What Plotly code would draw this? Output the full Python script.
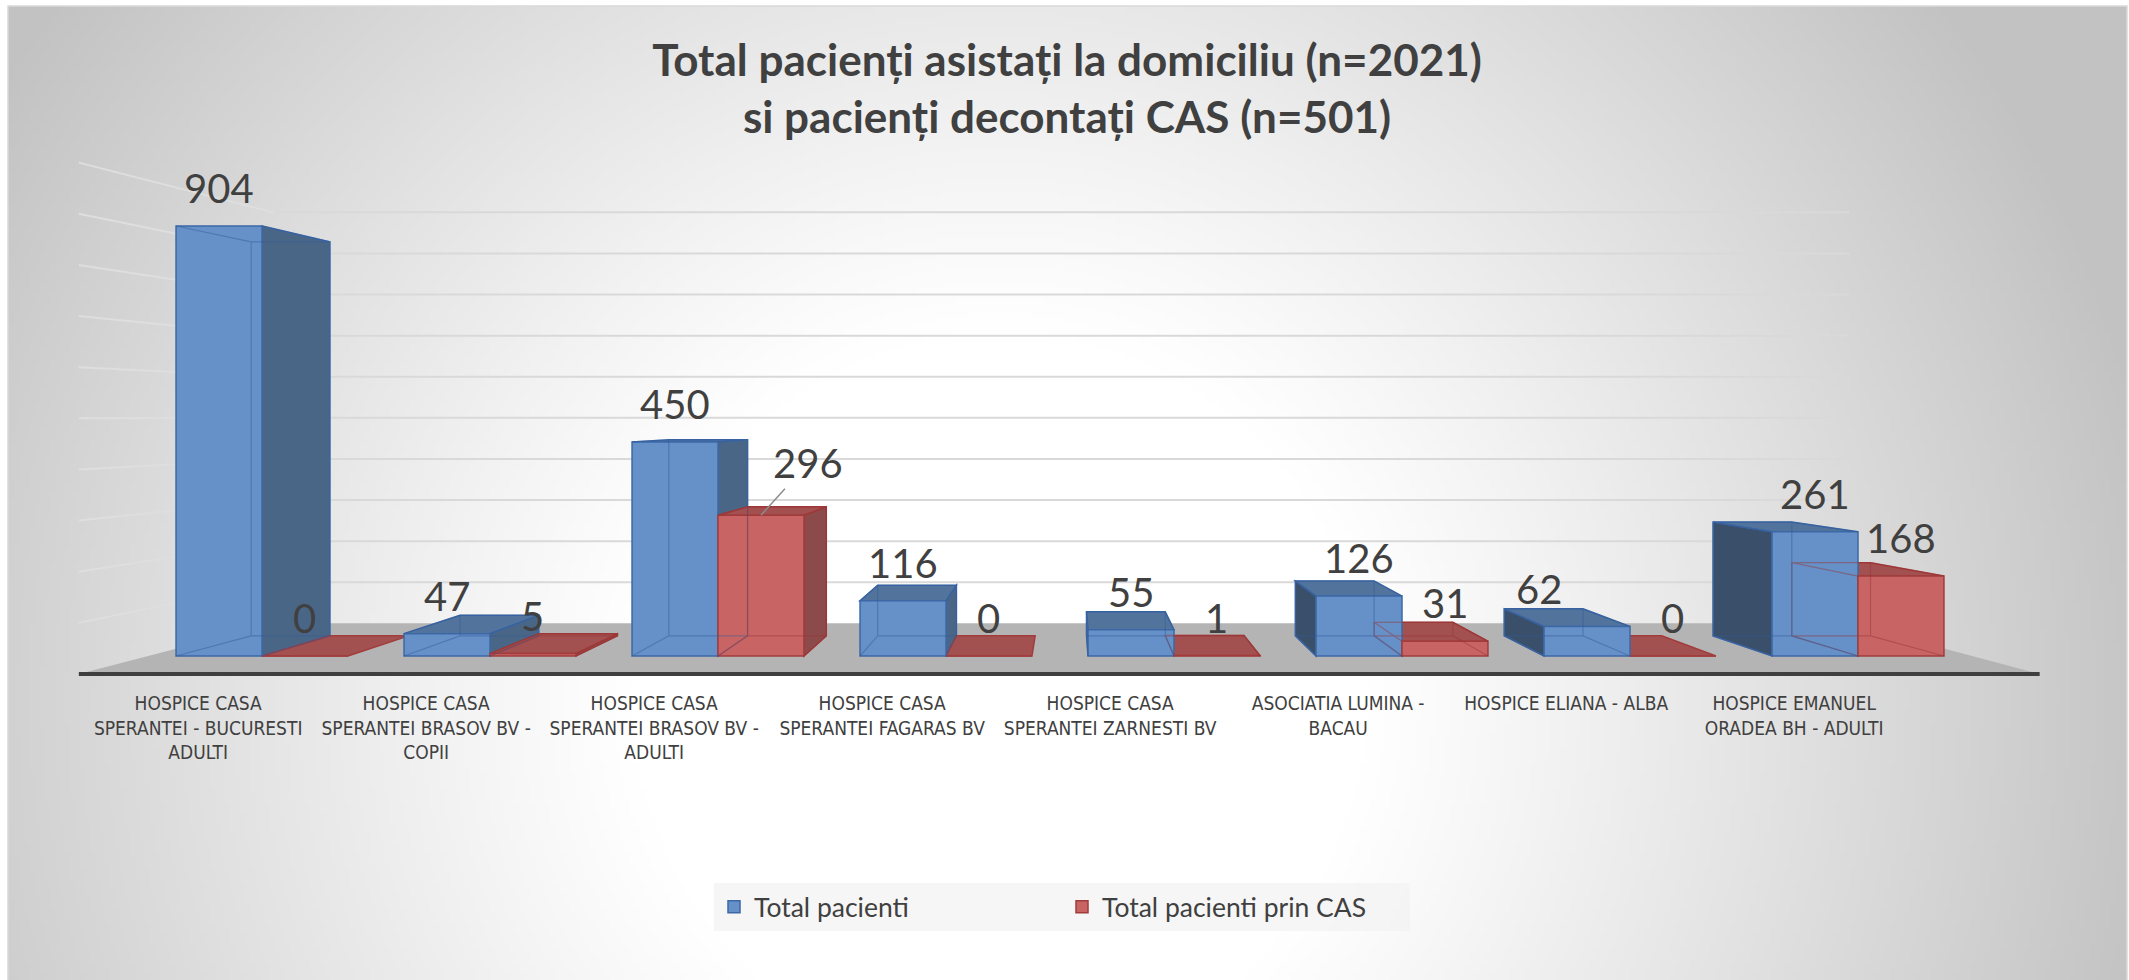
import base64
import struct
import zlib

import numpy as np
import plotly.graph_objects as go

# ---------------- data ----------------
categories = [
    "HOSPICE CASA<br>SPERANTEI - BUCURESTI<br>ADULTI",
    "HOSPICE CASA<br>SPERANTEI BRASOV BV -<br>COPII",
    "HOSPICE CASA<br>SPERANTEI BRASOV BV -<br>ADULTI",
    "HOSPICE CASA<br>SPERANTEI FAGARAS BV",
    "HOSPICE CASA<br>SPERANTEI ZARNESTI BV",
    "ASOCIATIA LUMINA -<br>BACAU",
    "HOSPICE ELIANA - ALBA",
    "HOSPICE EMANUEL<br>ORADEA BH - ADULTI",
]
total_pacienti = [904, 47, 450, 116, 55, 126, 62, 261]
total_pacienti_cas = [0, 5, 296, 0, 1, 31, 0, 168]
series_names = ["Total pacienti", "Total pacienti prin CAS"]
gridline_values = [100, 200, 300, 400, 500, 600, 700, 800, 900, 1000]
title_lines = [
    "Total pacienți asistați la domiciliu (n=2021)",
    "si pacienți decontați CAS (n=501)",
]

# ---------------- geometry / style ----------------
W, H = 2129, 980
L, R, T, B = 40, 2090, 140, 690          # plot area in page pixels
X0_PX, CAT_PX = 262, 228                  # pixel of category 0, pixels per category
Y0_PX, UNIT_PX = 656, 0.4757              # pixel of value 0, pixels per unit
x_range = [(L - X0_PX) / CAT_PX, (R - X0_PX) / CAT_PX]
y_range = [(Y0_PX - B) / UNIT_PX, (Y0_PX - T) / UNIT_PX]
VPX = (1070 - X0_PX) / CAT_PX            # vanishing point (data units)
VPY = (Y0_PX - 416) / UNIT_PX
K_BAR, K_WALL, K_FLOOR = 0.916, 0.864, 1.075
BAR_W = 0.377
TICK_SHIFT = 0.28

FONT = "Lato, 'Noto Sans', 'DejaVu Sans', sans-serif"
NARROW = "'Liberation Sans Narrow', 'DejaVu Sans Condensed', Lato, sans-serif"
TEXT = "#404040"

STYLES = [
    dict(front="#6690C8", top="#52739C", right="#4A6686", left="#3A4F6A",
         edge="#3C68A6", hidden="rgba(50,90,150,0.45)"),
    dict(front="#C86564", top="#A35050", right="#8C4A4A", left="#7A3E3E",
         edge="#A23C3C", hidden="rgba(150,50,50,0.45)"),
]

LABEL_NUDGE = {
    (1, 2): dict(showarrow=True, ax=47, ay=-52, arrowhead=0, arrowwidth=1.5,
                 arrowcolor="#8c8c8c", standoff=0),
    (0, 6): dict(xshift=-48),
}


def proj(x, v, k):
    return VPX + (x - VPX) * k, VPY + (v - VPY) * k


def path(points, close=True):
    s = "M " + " L ".join(f"{x:.5f},{y:.5f}" for x, y in points)
    return s + (" Z" if close else "")


def gradient_png():
    gw, gh = 424, 195
    bx0, by0, bx1, by1 = 8, 6, 2127, 980
    jj, ii = np.meshgrid(np.arange(gw), np.arange(gh))
    X = bx0 + (jj + 0.5) * (bx1 - bx0) / gw
    Y = by0 + (ii + 0.5) * (by1 - by0) / gh
    t = np.sqrt(((X - 1000) / 1200.0) ** 2 + ((Y - 700) / 1200.0) ** 2)
    s = np.clip((t - 0.3) / 0.68, 0, 1) ** 1.1
    val = (255 - (255 - 194) * s).round().astype(np.uint8)
    raw = b"".join(b"\x00" + val[r].tobytes() for r in range(gh))

    def chunk(tag, data):
        c = struct.pack(">I", len(data)) + tag + data
        return c + struct.pack(">I", zlib.crc32(tag + data) & 0xFFFFFFFF)

    ihdr = struct.pack(">IIBBBBB", gw, gh, 8, 0, 0, 0, 0)
    png = (b"\x89PNG\r\n\x1a\n" + chunk(b"IHDR", ihdr)
           + chunk(b"IDAT", zlib.compress(raw, 9)) + chunk(b"IEND", b""))
    return "data:image/png;base64," + base64.b64encode(png).decode()


n = len(categories)
series = [total_pacienti, total_pacienti_cas]
left_wall, right_wall = -0.5, n - 0.5

fig = go.Figure()
for s, (name, vals) in enumerate(zip(series_names, series)):
    st = STYLES[s]
    fig.add_trace(go.Bar(
        x=list(range(n)), y=vals, name=name,
        marker=dict(color=st["front"], line=dict(color=st["edge"], width=1.5)),
        hovertemplate="%{y}<extra>" + name + "</extra>",
    ))

shapes = []
# back wall gridlines + left side wall gridlines
for g in gridline_values:
    a = proj(left_wall, g, K_WALL)
    b = proj(right_wall, g, K_WALL)
    c = proj(left_wall, g, K_FLOOR)
    shapes.append(dict(type="line", xref="x", yref="y", x0=a[0], y0=a[1], x1=b[0], y1=b[1],
                       line=dict(color="#D9D9D9", width=2), layer="below"))
    shapes.append(dict(type="line", xref="x", yref="y", x0=c[0], y0=c[1], x1=a[0], y1=a[1],
                       line=dict(color="#DEDEDE", width=2), layer="below"))

# floor
floor = [proj(left_wall, 0, K_FLOOR), proj(right_wall, 0, K_FLOOR),
         proj(right_wall, 0, K_WALL), proj(left_wall, 0, K_WALL)]
shapes.append(dict(type="path", xref="x", yref="y", path=path(floor),
                   fillcolor="#B4B4B4", line=dict(width=0), layer="below"))
fl, fr = proj(left_wall, 0, K_FLOOR), proj(right_wall, 0, K_FLOOR)
shapes.append(dict(type="line", xref="x", yref="y", x0=fl[0], y0=fl[1], x1=fr[0], y1=fr[1],
                   line=dict(color="#3F3F3F", width=4), layer="below"))

# 3-D faces of every bar, far ones first
bars = []
for s, vals in enumerate(series):
    for i, v in enumerate(vals):
        x0 = i - BAR_W if s == 0 else i
        bars.append((s, i, x0, x0 + BAR_W, v))
bars.sort(key=lambda b: -abs((b[2] + b[3]) / 2 - VPX))

hidden = []
for s, i, x0, x1, v in bars:
    st = STYLES[s]
    bl0, br0 = proj(x0, 0, K_BAR), proj(x1, 0, K_BAR)
    bl1, br1 = proj(x0, v, K_BAR), proj(x1, v, K_BAR)
    faces = []
    if v > 0 and x1 < VPX:
        faces.append(([(x1, 0), (x1, v), br1, br0], st["right"]))
    if v > 0 and x0 > VPX:
        faces.append(([(x0, 0), (x0, v), bl1, bl0], st["left"]))
    if v < VPY:
        faces.append(([(x0, v), (x1, v), br1, bl1], st["top"]))
    for pts, col in faces:
        shapes.append(dict(type="path", xref="x", yref="y", path=path(pts),
                           fillcolor=col, line=dict(color=st["edge"], width=1.5),
                           layer="below"))
    if v > 0:
        edges = (path([bl0, br0, br1, bl1]) + " "
                 + path([(x0, 0), bl0], close=False) + " "
                 + path([(x1, 0), br0], close=False) + " "
                 + path([(x0, v), bl1], close=False) + " "
                 + path([(x1, v), br1], close=False))
        hidden.append(dict(type="path", xref="x", yref="y", path=edges,
                           fillcolor="rgba(0,0,0,0)",
                           line=dict(color=st["hidden"], width=1.2), layer="above"))
shapes.extend(hidden)

# chart frame
pw, ph = R - L, B - T
shapes.append(dict(type="rect", xref="paper", yref="paper",
                   x0=(8 - L) / pw, x1=(2127 - L) / pw,
                   y0=(B - 6) / ph, y1=(B - 985) / ph,
                   line=dict(color="#D9D9D9", width=1.5), fillcolor="rgba(0,0,0,0)",
                   layer="below"))

# data labels
annotations = []
for s, vals in enumerate(series):
    for i, v in enumerate(vals):
        cx = i - BAR_W / 2 if s == 0 else i + BAR_W / 2
        a = dict(x=cx, y=v, xref="x", yref="y", text=str(v), showarrow=False,
                 yshift=38, font=dict(family=FONT, size=40, color=TEXT))
        nudge = LABEL_NUDGE.get((s, i))
        if nudge:
            if nudge.get("showarrow"):
                a.pop("yshift")
            a.update(nudge)
        annotations.append(a)

fig.update_layout(
    width=W, height=H, autosize=False,
    margin=dict(l=L, r=W - R, t=T, b=H - B, pad=0),
    paper_bgcolor="white", plot_bgcolor="rgba(0,0,0,0)",
    barmode="group", bargap=1 - 2 * BAR_W, bargroupgap=0,
    title=dict(text="<br>".join(title_lines), x=1067 / W, xref="container", xanchor="center",
               y=1 - 76 / H, yref="container", yanchor="middle",
               font=dict(family=FONT, size=44, color=TEXT, weight="bold")),
    xaxis=dict(range=x_range, tickvals=[i - TICK_SHIFT for i in range(n)], ticktext=categories,
               tickangle=0, showgrid=False, zeroline=False, showline=False, ticks="",
               tickfont=dict(family=NARROW, size=19, color=TEXT), fixedrange=True),
    yaxis=dict(range=y_range, visible=False, showgrid=False, zeroline=False, fixedrange=True),
    legend=dict(orientation="h", x=(1062 - L) / pw, y=(B - 907) / ph,
                xanchor="center", yanchor="middle",
                font=dict(family=FONT, size=26.5, color=TEXT),
                bgcolor="rgba(242,242,242,0.7)", entrywidth=303,
                itemclick=False, itemdoubleclick=False),
    shapes=shapes,
    annotations=annotations,
    images=[dict(source=gradient_png(), xref="paper", yref="paper",
                 x=(8 - L) / pw, y=(B - 6) / ph, sizex=(2127 - 8) / pw, sizey=(980 - 6) / ph,
                 xanchor="left", yanchor="top", sizing="stretch", layer="below")],
    showlegend=True,
)

fig.write_html("out.html", include_plotlyjs=True,
               config={"displayModeBar": False},
               post_script="document.body.style.margin='0';document.body.style.overflow='hidden';")
